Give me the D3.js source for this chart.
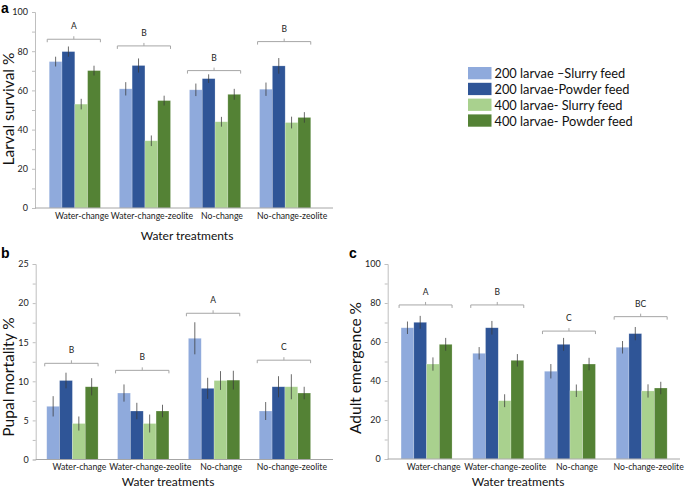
<!DOCTYPE html>
<html>
<head>
<meta charset="utf-8">
<script src="https://cdn.jsdelivr.net/npm/d3@7"></script>
<style>
  body { margin: 0; background: #fff; }
  svg { display: block; font-family: Lato, "Open Sans", sans-serif; }
</style>
</head>
<body>
<div id="chart"></div>
<script>
const categories = ["Water-change", "Water-change-zeolite", "No-change", "No-change-zeolite"];
const seriesNames = ["200 larvae \u2013Slurry feed", "200 larvae-Powder feed", "400 larvae- Slurry feed", "400 larvae- Powder feed"];
const colors = ["#8faadc", "#2f5597", "#a9d18e", "#548235"];

// a: larval survival (%), one row per water treatment, one column per series
const larvalSurvival = [[74.7, 79.8, 53.0, 70.1], [60.8, 72.7, 34.3, 54.8], [60.3, 66.0, 44.0, 58.0], [60.6, 72.5, 43.6, 46.2]];
const larvalSurvivalErr = [[2.5, 2.6, 2.7, 2.5], [3.4, 3.6, 2.7, 2.5], [3.2, 2.2, 2.5, 2.8], [3.4, 4.0, 3.0, 2.7]];
const larvalLetters = ["A", "B", "B", "B"];
const larvalBracket = [86.1, 82.7, 70.1, 84.9];

// b: pupal mortality (%)
const pupalMortality = [[6.8, 10.1, 4.6, 9.3], [8.5, 6.2, 4.6, 6.2], [15.5, 9.1, 10.1, 10.15], [6.2, 9.3, 9.3, 8.5]];
const pupalMortalityErr = [[1.3, 1.0, 0.9, 1.1], [1.1, 1.05, 1.15, 0.8], [2.05, 1.35, 1.2, 1.2], [1.15, 1.35, 1.6, 0.8]];
const pupalLetters = ["B", "B", "A", "C"];
const pupalBracket = [12.3, 11.4, 18.7, 12.7];

// c: adult emergence (%)
const adultEmergence = [[67.3, 70.1, 48.7, 58.8], [54.2, 67.3, 29.9, 50.6], [45.0, 58.8, 35.0, 48.7], [57.3, 64.3, 34.9, 36.4]];
const adultEmergenceErr = [[3.2, 3.3, 3.4, 3.3], [3.2, 3.5, 3.3, 3.2], [3.7, 3.3, 3.2, 3.2], [3.2, 3.4, 3.4, 3.2]];
const adultLetters = ["A", "B", "C", "BC"];
const adultBracket = [79, 79, 65.6, 73];

const yTicksPercent = [0, 20, 40, 60, 80, 100];
const yTicksPupal = [0, 5, 10, 15, 20, 25];

const W = 685, H = 488;
const svg = d3.select("#chart").append("svg")
  .attr("width", W).attr("height", H)
  .attr("viewBox", [0, 0, W, H]);

function drawPanel(p) {
  const g = svg.append("g");
  const y = d3.scaleLinear().domain([0, p.yMax]).range([p.bottom, p.top]);
  const x = d3.scaleBand().domain(categories).range([p.left, p.right])
    .paddingInner(p.padInner).paddingOuter(p.padOuter).align(p.align);
  const xs = d3.scaleBand().domain(d3.range(seriesNames.length)).range([0, x.bandwidth()]);

  // y axis with minor ticks, labels on major ticks only
  const yAxis = d3.axisLeft(y).tickValues(d3.range(0, p.yMax + 1e-9, p.minorStep))
    .tickSize(3).tickFormat(d => p.labels.includes(d) ? d : "");
  const ya = g.append("g").attr("transform", `translate(${p.left},0)`).call(yAxis);
  ya.select(".domain").attr("stroke", "#bfbfbf");
  ya.selectAll(".tick line").attr("stroke", "#bfbfbf");
  ya.selectAll(".tick text").attr("font-size", 9).attr("fill", "#222").attr("x", -7)
    .attr("font-family", "Lato, sans-serif");

  // bars
  categories.forEach((c, i) => {
    const grp = g.append("g").attr("transform", `translate(${x(c)},0)`);
    grp.selectAll("rect").data(p.values[i]).join("rect")
      .attr("x", (d, j) => xs(j))
      .attr("width", xs.bandwidth())
      .attr("y", d => y(d))
      .attr("height", d => y(0) - y(d))
      .attr("fill", (d, j) => colors[j])
      .attr("stroke", "#ffffff").attr("stroke-opacity", 0.35).attr("stroke-width", 0.6);
    grp.selectAll("line.err").data(p.values[i]).join("line")
      .attr("class", "err")
      .attr("x1", (d, j) => xs(j) + xs.bandwidth() / 2)
      .attr("x2", (d, j) => xs(j) + xs.bandwidth() / 2)
      .attr("y1", (d, j) => y(d + p.errors[i][j]))
      .attr("y2", (d, j) => y(d - p.errors[i][j]))
      .attr("stroke", "#3a3a3a").attr("stroke-opacity", 0.75).attr("stroke-width", 1);

    // significance bracket
    const by = y(p.bracket[i]);
    const bx0 = x(c) - 2, bx1 = x(c) + x.bandwidth(), bm = (bx0 + bx1) / 2;
    g.append("path")
      .attr("d", `M${bx0},${by + 3}V${by}H${bx1}V${by + 3}M${bm},${by}V${by - 3}`)
      .attr("fill", "none").attr("stroke", "#a6a6a6").attr("stroke-width", 1);
    g.append("text").attr("x", bm).attr("y", by - 10)
      .attr("text-anchor", "middle").attr("font-size", 8.5).attr("fill", "#222")
      .text(p.letters[i]);

    // category label
    g.append("text").attr("x", x(c) + x.bandwidth() / 2 + 7).attr("y", p.bottom + 10.5)
      .attr("text-anchor", "middle").attr("font-size", 8.7).attr("fill", "#222")
      .text(c);
  });

  // x axis line
  g.append("line").attr("x1", p.left).attr("x2", p.right)
    .attr("y1", p.bottom).attr("y2", p.bottom)
    .attr("stroke", "#a6a6a6").attr("stroke-width", 1);

  g.append("text").attr("x", p.xTitle[0]).attr("y", p.xTitle[1])
    .attr("text-anchor", "middle").attr("font-size", 12).attr("fill", "#111")
    .text("Water treatments");
  g.append("text")
    .attr("transform", `translate(${p.yTitle[0]},${p.yTitle[1]}) rotate(-90)`)
    .attr("text-anchor", "middle").attr("dominant-baseline", "central")
    .attr("font-size", 15.5).attr("fill", "#111")
    .text(p.yLabel);
  g.append("text").attr("x", p.tag[0]).attr("y", p.tag[1])
    .attr("font-size", 14).attr("font-weight", "bold").attr("font-family", "Liberation Sans, Arial, sans-serif")
    .text(p.tagText);
}

drawPanel({
  values: larvalSurvival, errors: larvalSurvivalErr, letters: larvalLetters, bracket: larvalBracket,
  yMax: 100, minorStep: 10, labels: yTicksPercent, yLabel: "Larval survival %",
  left: 35, right: 333, top: 12, bottom: 208,
  padInner: 0.27, padOuter: 0.26, align: 0.39,
  xTitle: [187, 240], yTitle: [8, 109], tag: [1, 13], tagText: "a"
});

drawPanel({
  values: pupalMortality, errors: pupalMortalityErr, letters: pupalLetters, bracket: pupalBracket,
  yMax: 25, minorStep: 2.5, labels: yTicksPupal, yLabel: "Pupal mortality %",
  left: 35.7, right: 333, top: 264, bottom: 459.5,
  padInner: 0.275, padOuter: 0.236, align: 0.33,
  xTitle: [168, 486], yTitle: [8, 377], tag: [1, 258], tagText: "b"
});

drawPanel({
  values: adultEmergence, errors: adultEmergenceErr, letters: adultLetters, bracket: adultBracket,
  yMax: 100, minorStep: 10, labels: yTicksPercent, yLabel: "Adult emergence %",
  left: 387.7, right: 680, top: 264, bottom: 459,
  padInner: 0.289, padOuter: 0.183, align: 0.51,
  xTitle: [518, 486], yTitle: [355, 368], tag: [349, 258], tagText: "c"
});

// legend
const legend = svg.append("g").attr("transform", "translate(468,67)");
const li = legend.selectAll("g").data(seriesNames).join("g")
  .attr("transform", (d, i) => `translate(0,${i * 15.8})`);
li.append("rect").attr("width", 23.5).attr("height", 12.3).attr("fill", (d, i) => colors[i]);
li.append("text").attr("x", 26.5).attr("y", 6.3).attr("dominant-baseline", "central")
  .attr("font-size", 12.8).attr("fill", "#111").text(d => d);
</script>
</body>
</html>
